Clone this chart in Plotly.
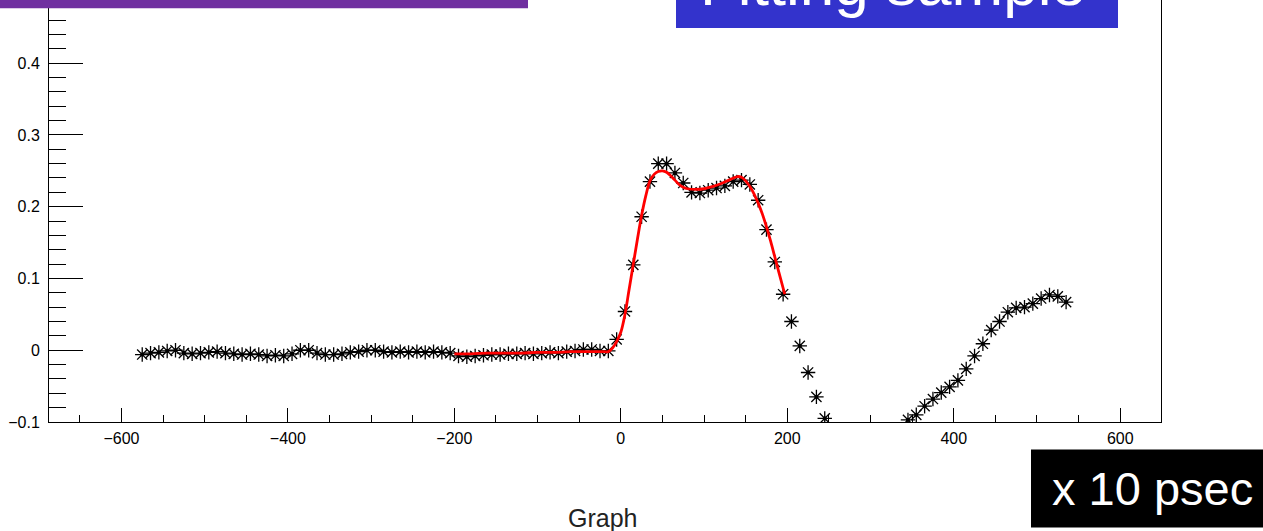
import plotly.graph_objects as go

# ---- data ----
x_data = [-575, -565, -555, -545, -535, -525, -515, -505, -495, -485,
          -475, -465, -455, -445, -435, -425, -415, -405, -395, -385,
          -375, -365, -355, -345, -335, -325, -315, -305, -295, -285,
          -275, -265, -255, -245, -235, -225, -215, -205, -195, -185,
          -175, -165, -155, -145, -135, -125, -115, -105, -95, -85,
          -75, -65, -55, -45, -35, -25, -15, -5, 5, 15,
          25, 35, 45, 55, 65, 75, 85, 95, 105, 115,
          125, 135, 145, 155, 165, 175, 185, 195, 205, 215,
          225, 235, 245, 255, 265, 275, 285, 295, 305, 315,
          325, 335, 345, 355, 365, 375, 385, 395, 405, 415,
          425, 435, 445, 455, 465, 475, 485, 495, 505, 515,
          525, 535]
y_data = [-0.006, -0.004, -0.003, -0.001, 0.000, -0.004, -0.005, -0.004, -0.003, -0.002,
          -0.004, -0.005, -0.006, -0.005, -0.006, -0.008, -0.007, -0.008, -0.005, 0.000,
          0.000, -0.004, -0.006, -0.006, -0.005, -0.003, -0.002, 0.000, 0.000, -0.002,
          -0.003, -0.002, -0.003, -0.002, -0.003, -0.002, -0.003, -0.004, -0.008, -0.009,
          -0.008, -0.007, -0.006, -0.006, -0.005, -0.005, -0.004, -0.005, -0.004, -0.003,
          -0.004, -0.002, -0.001, 0.001, 0.001, -0.001, -0.001, 0.015, 0.054, 0.119,
          0.186, 0.235, 0.260, 0.260, 0.247, 0.233, 0.220, 0.219, 0.223, 0.226,
          0.229, 0.235, 0.237, 0.231, 0.209, 0.168, 0.123, 0.078, 0.040, 0.006,
          -0.031, -0.065, -0.095, -0.120, -0.140, -0.155, -0.165, -0.170, -0.165, -0.150,
          -0.135, -0.115, -0.097, -0.090, -0.078, -0.068, -0.059, -0.051, -0.042, -0.026,
          -0.008, 0.009, 0.028, 0.040, 0.053, 0.059, 0.060, 0.065, 0.072, 0.077,
          0.075, 0.067]

fit_x = [-200, -180, -160, -140, -120, -100, -80, -60, -40, -20, -15, -10, -5, 0,
         5, 10, 15, 20, 25, 30, 35, 40, 45, 50, 55, 60, 65, 70, 75, 80, 90, 100,
         110, 120, 130, 140, 145, 150, 155, 160, 165, 170, 175, 180, 185, 190, 197]
fit_y = [-0.005, -0.005, -0.004, -0.004, -0.004, -0.003, -0.003, -0.002, -0.002, -0.002,
         -0.002, 0.003, 0.012, 0.025, 0.050, 0.085, 0.120, 0.155, 0.188, 0.215, 0.236,
         0.245, 0.249, 0.250, 0.248, 0.243, 0.237, 0.231, 0.227, 0.225, 0.224, 0.225,
         0.228, 0.232, 0.237, 0.242, 0.241, 0.236, 0.228, 0.218, 0.205, 0.190, 0.172,
         0.152, 0.130, 0.108, 0.078]

x_major = [-600, -400, -200, 0, 200, 400, 600]
x_major_labels = ["\u2212600", "\u2212400", "\u2212200", "0", "200", "400", "600"]
y_major = [-0.1, 0, 0.1, 0.2, 0.3, 0.4]
y_major_labels = ["\u22120.1", "0", "0.1", "0.2", "0.3", "0.4"]

# ---- layout geometry (pixels) ----
W, H = 1263, 531
L, R = 49, 1161
T_PIX, B_PIX = 0, 422.5

def px(xp):
    return (xp - L) / (R - L)

def py(yp):
    return (B_PIX - yp) / (B_PIX - T_PIX)

fig = go.Figure()

fig.add_trace(go.Scatter(
    x=x_data, y=y_data, mode="markers",
    marker=dict(symbol="asterisk-open", size=12, color="black",
                line=dict(color="black", width=1.3)),
    showlegend=False, hoverinfo="x+y"))
fig.add_trace(go.Scatter(
    x=x_data, y=y_data, mode="markers",
    marker=dict(symbol="circle", size=4, color="black"),
    showlegend=False, hoverinfo="skip"))
fig.add_trace(go.Scatter(
    x=fit_x, y=fit_y, mode="lines", line=dict(color="#ff0000", width=2.8, shape="spline"),
    showlegend=False, hoverinfo="skip"))

axis_font = dict(family="Liberation Sans, Arial, Helvetica, sans-serif", size=16, color="black")

fig.update_layout(
    width=W, height=H,
    margin=dict(l=L, r=W - R, t=T_PIX, b=H - B_PIX),
    paper_bgcolor="white", plot_bgcolor="white",
    xaxis=dict(range=[-687, 649], showgrid=False, zeroline=False,
               showline=True, linecolor="black", linewidth=1, mirror=False,
               tickmode="array", tickvals=x_major, ticktext=x_major_labels,
               ticks="inside", ticklen=14, tickwidth=1, tickcolor="black",
               minor=dict(dtick=50, tick0=0, ticks="inside", ticklen=7,
                          tickwidth=1, tickcolor="black", showgrid=False),
               tickfont=axis_font, ticklabelstandoff=2),
    yaxis=dict(range=[-0.1, 0.488], showgrid=False, zeroline=False,
               showline=True, linecolor="black", linewidth=1, mirror=True,
               tickmode="array", tickvals=y_major, ticktext=y_major_labels,
               ticks="inside", ticklen=34, tickwidth=1, tickcolor="black",
               minor=dict(dtick=0.02, tick0=0, ticks="inside", ticklen=17,
                          tickwidth=1, tickcolor="black", showgrid=False),
               tickfont=axis_font, ticklabelstandoff=5),
    font=axis_font,
)

shapes = [
    # purple box (top-left, cut off)
    dict(type="rect", xref="paper", yref="paper", x0=px(-2), x1=px(528),
         y0=py(8.3), y1=py(-20), fillcolor="#7030A0", line=dict(width=0), layer="above"),
    # blue box (top-right, cut off)
    dict(type="rect", xref="paper", yref="paper", x0=px(676), x1=px(1118),
         y0=py(28), y1=py(-40), fillcolor="#3333CC", line=dict(width=0), layer="above"),
    # black box (bottom-right)
    dict(type="rect", xref="paper", yref="paper", x0=px(1031), x1=px(1265),
         y0=py(528), y1=py(450), fillcolor="black", line=dict(width=0), layer="above"),
]
fig.update_layout(shapes=shapes)

fig.add_annotation(xref="paper", yref="paper", x=px(698), y=py(20),
                   xanchor="left", yanchor="bottom", showarrow=False,
                   text="Fitting sample",
                   font=dict(family="Liberation Sans, Arial, sans-serif", size=62, color="white"))
fig.add_annotation(xref="paper", yref="paper", x=px(1152), y=py(489),
                   xanchor="center", yanchor="middle", showarrow=False,
                   text="x 10 psec",
                   font=dict(family="Liberation Sans, Arial, sans-serif", size=47, color="white"))
fig.add_annotation(xref="paper", yref="paper", x=px(602), y=py(519),
                   xanchor="center", yanchor="middle", showarrow=False,
                   text="Graph",
                   font=dict(family="Liberation Sans, Arial, sans-serif", size=25, color="#222222"))

fig.write_html("out.html")
